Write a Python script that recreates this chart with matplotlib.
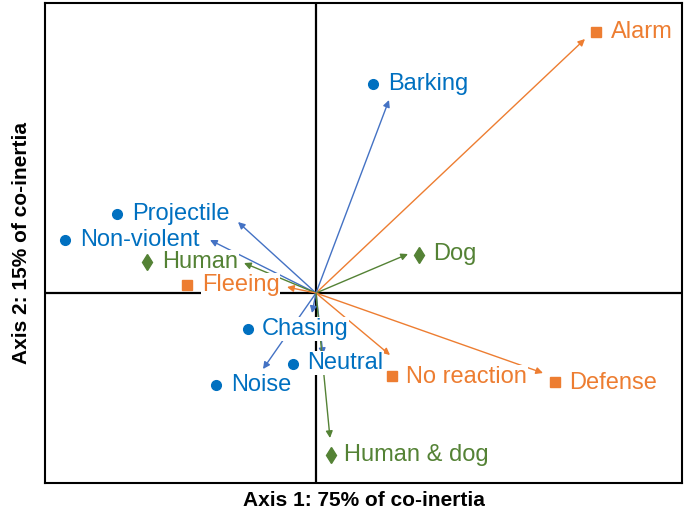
import matplotlib
matplotlib.use("Agg")
import matplotlib.pyplot as plt

plt.rcParams['font.family'] = ['Liberation Sans', 'DejaVu Sans']

# co-inertia scores (marker position), arrow tips and label anchors
labels = ['Alarm', 'Barking', 'Projectile', 'Non-violent', 'Human', 'Fleeing', 'Dog',
          'Chasing', 'Neutral', 'Noise', 'No reaction', 'Defense', 'Human & dog']
groups = ['o', 'b', 'b', 'b', 'g', 'o', 'g', 'b', 'b', 'b', 'o', 'o', 'g']
pt_x = [2.80, 0.57, -1.99, -2.51, -1.69, -1.29, 1.03, -0.68, -0.23, -1.00, 0.76, 2.39, 0.15]
pt_y = [2.61, 2.09, 0.79, 0.53, 0.31, 0.08, 0.38, -0.36, -0.71, -0.92, -0.83, -0.89, -1.62]
tip_x = [2.69, 0.73, -0.78, -1.06, -0.72, -0.29, 0.92, -0.04, 0.07, -0.53, 0.74, 2.27, 0.14]
tip_y = [2.54, 1.93, 0.71, 0.53, 0.30, 0.06, 0.39, -0.20, -0.62, -0.76, -0.62, -0.80, -1.45]
lab_x = [2.95, 0.72, -1.84, -2.36, -1.54, -1.14, 1.17, -0.54, -0.09, -0.85, 0.90, 2.53, 0.28]
lab_y = [2.61, 2.09, 0.79, 0.53, 0.31, 0.08, 0.39, -0.36, -0.70, -0.92, -0.84, -0.90, -1.62]

text_col = {'b': '#0070C0', 'o': '#ED7D31', 'g': '#548235'}
arrow_col = {'b': '#4472C4', 'o': '#ED7D31', 'g': '#548235'}
markers = {'b': ('o', 7), 'o': ('s', 7), 'g': ('d', 8)}

fig = plt.figure(figsize=(6.85, 5.12), dpi=100)
ax = fig.add_axes([0.0657, 0.0566, 0.9299, 0.9375])
ax.set_xlim(-2.71, 3.66)
ax.set_ylim(-1.90, 2.90)

ax.axhline(0, color='black', lw=1.6, zorder=1)
ax.axvline(0, color='black', lw=1.6, zorder=1)

for i, name in enumerate(labels):
    g = groups[i]
    ax.annotate('', xy=(tip_x[i], tip_y[i]), xytext=(0, 0),
                arrowprops=dict(arrowstyle='-|>', color=arrow_col[g], lw=1.0,
                                mutation_scale=10, shrinkA=0, shrinkB=0),
                zorder=2)
    ax.text(lab_x[i], lab_y[i], name, color=text_col[g], fontsize=17,
            ha='left', va='center', zorder=3,
            bbox=dict(facecolor='white', edgecolor='none', pad=0.5))
    m, ms = markers[g]
    ax.plot(pt_x[i], pt_y[i], marker=m, color=text_col[g], markersize=ms,
            linestyle='none', zorder=4)

ax.set_xticks([])
ax.set_yticks([])
for s in ax.spines.values():
    s.set_linewidth(1.5)
    s.set_color('black')

ax.set_xlabel('Axis 1: 75% of co-inertia', fontsize=15, fontweight='bold', labelpad=6)
ax.set_ylabel('Axis 2: 15% of co-inertia', fontsize=15, fontweight='bold', labelpad=10)

fig.savefig('out.png', dpi=100)
